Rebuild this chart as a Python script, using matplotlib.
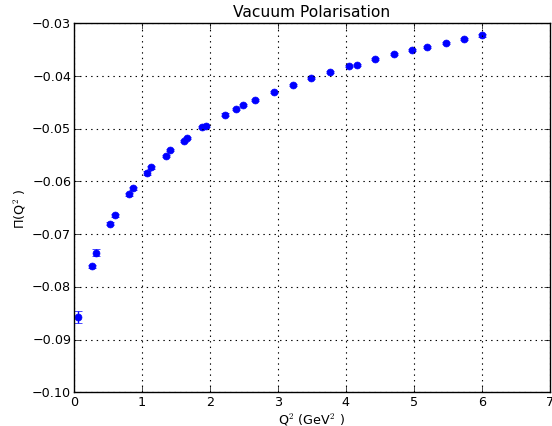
import numpy as np
import matplotlib
matplotlib.use("Agg")
import matplotlib.pyplot as plt

# ── data ────────────────────────────────────────────────────
q2 = [0.06, 0.26, 0.33, 0.53, 0.60, 0.81, 0.87, 1.07, 1.14, 1.35, 1.42,
      1.62, 1.67, 1.89, 1.94, 2.22, 2.39, 2.49, 2.66, 2.94, 3.22, 3.49,
      3.77, 4.04, 4.16, 4.43, 4.71, 4.98, 5.19, 5.47, 5.74, 6.01]
pi_q2 = [-0.0857, -0.0761, -0.0735, -0.0680, -0.0664, -0.0624, -0.0613,
         -0.0584, -0.0573, -0.0551, -0.0541, -0.0523, -0.0518, -0.0497,
         -0.0494, -0.0473, -0.0463, -0.0455, -0.0446, -0.0430, -0.04165,
         -0.0404, -0.0392, -0.0381, -0.0379, -0.0368, -0.0359, -0.0350,
         -0.03455, -0.0337, -0.0330, -0.0323]
pi_err = [0.00117, 0.0003, 0.0006, 0.0003, 0.0003, 0.0003, 0.0003,
          0.0003, 0.0003, 0.0002, 0.0002, 0.0002, 0.0002, 0.0002,
          0.0002, 0.0002, 0.0002, 0.0002, 0.0002, 0.0002, 0.0002,
          0.0002, 0.0002, 0.0002, 0.0002, 0.0002, 0.0002, 0.0002,
          0.0002, 0.0002, 0.0002, 0.0002]

plt.style.use("classic")
plt.rcParams["font.size"] = 9.2

fig = plt.figure(figsize=(5.52, 4.27), dpi=100, facecolor="white")
ax = fig.add_axes([0.134, 0.079, 0.862, 0.864])

ax.errorbar(q2, pi_q2, yerr=pi_err, fmt="o", color="blue", mec="blue",
            ecolor="blue", markersize=5, capsize=3, elinewidth=1)

ax.set_xlim(0, 7)
ax.set_ylim(-0.10, -0.03)
ax.set_xticks(np.arange(0, 8, 1))
ax.set_yticks(np.arange(-0.10, -0.029, 0.01))
ax.yaxis.set_major_formatter(plt.FuncFormatter(lambda v, _: f"{v:.2f}".replace("-", "\u2212")))
ax.tick_params(labelsize=9.2, pad=2)
ax.grid(True, linestyle=":", color="black", linewidth=0.8)

ax.set_title("Vacuum Polarisation", fontsize=11.2)
ax.set_xlabel(r"Q$^2$ (GeV$^2$ )", fontsize=9.2, labelpad=2)
ax.set_ylabel(r"Π(Q$^2$ )", fontsize=9.2, labelpad=3)

fig.savefig("out.png", dpi=100, facecolor="white")
